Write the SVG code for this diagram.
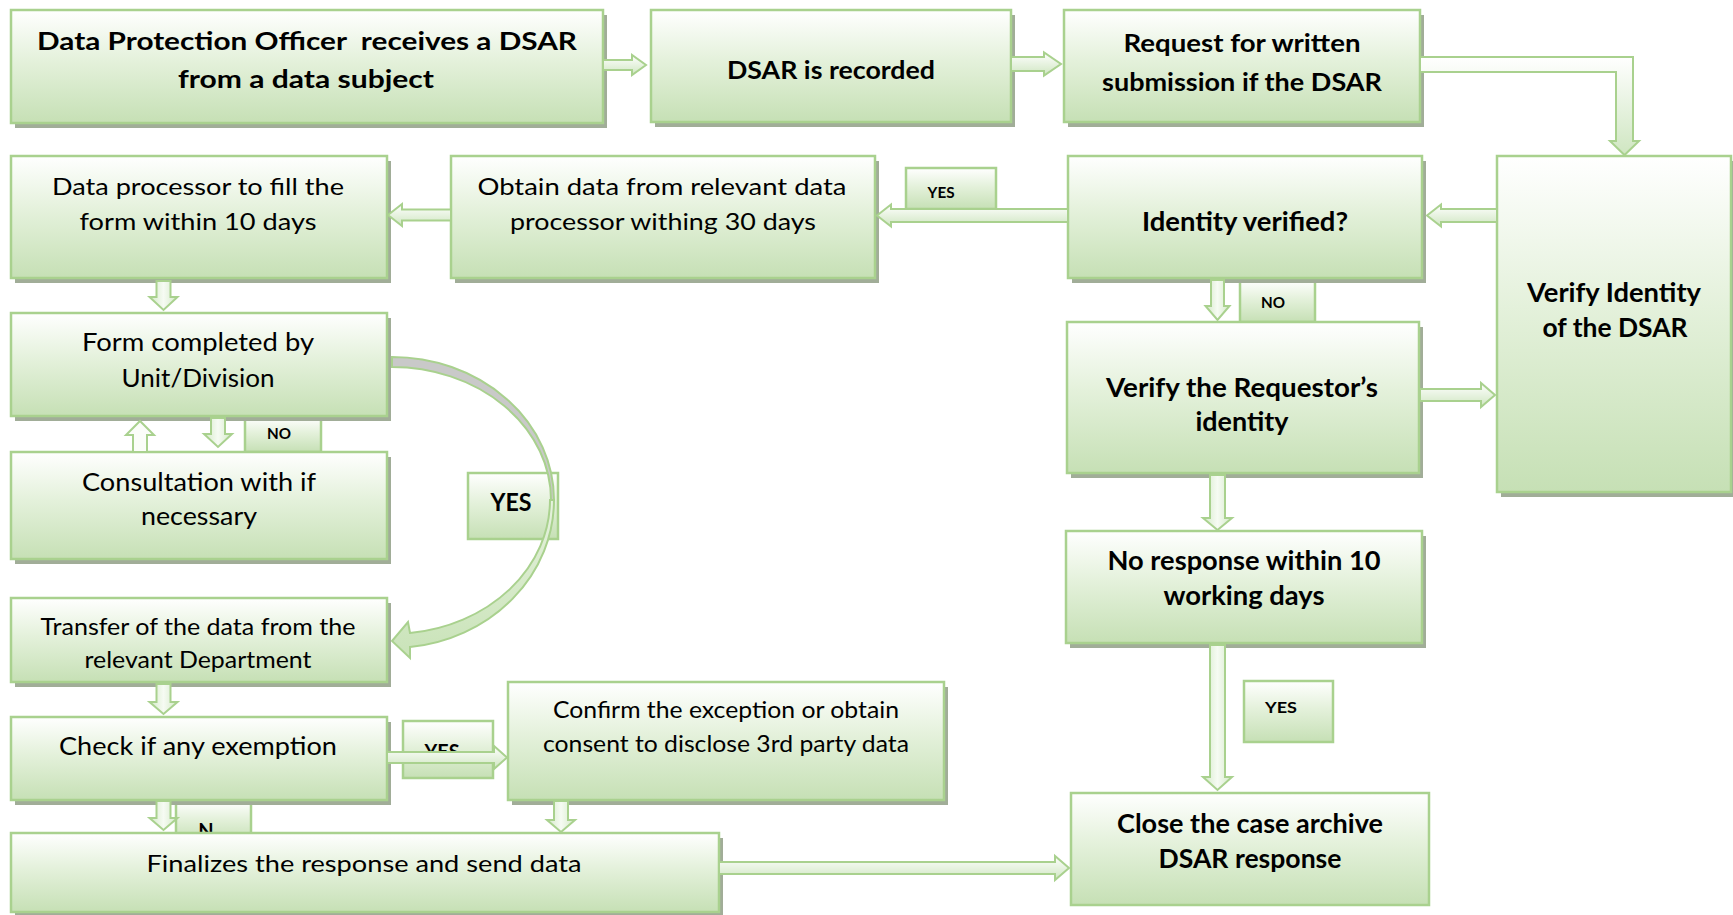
<svg xmlns="http://www.w3.org/2000/svg" width="1733" height="915" viewBox="0 0 1733 915">
<defs>
<linearGradient id="gBox" x1="0" y1="0" x2="0" y2="1">
<stop offset="0" stop-color="#ffffff"/>
<stop offset="0.45" stop-color="#e4f1db"/>
<stop offset="1" stop-color="#c6e0b5"/>
</linearGradient>
<linearGradient id="gArrH" x1="0" y1="0" x2="0" y2="1">
<stop offset="0" stop-color="#ffffff"/>
<stop offset="1" stop-color="#cfe6c1"/>
</linearGradient>
<linearGradient id="gArrV" x1="0" y1="0" x2="1" y2="0">
<stop offset="0" stop-color="#d3e9c6"/>
<stop offset="0.5" stop-color="#f6fbf3"/>
<stop offset="1" stop-color="#d3e9c6"/>
</linearGradient>
<linearGradient id="gCurve" x1="0" y1="0" x2="0" y2="1">
<stop offset="0" stop-color="#e6f2de"/>
<stop offset="1" stop-color="#c9e3b8"/>
</linearGradient>
</defs>
<style>
.box{fill:url(#gBox);stroke:#a9d18e;stroke-width:2.5}
.sh{fill:#a1ad98}
.lbl{fill:url(#gBox);stroke:#a9d18e;stroke-width:2.5}
.ah{fill:url(#gArrH);stroke:#a9d18e;stroke-width:2;stroke-linejoin:miter}
.av{fill:url(#gArrV);stroke:#a9d18e;stroke-width:2;stroke-linejoin:miter}
text{font-family:Lato,"Liberation Sans",sans-serif;fill:#000;text-anchor:middle}
.b{font-weight:bold}
.t22{font-size:23.5px}
.t24{font-size:25px}
.t25{font-size:26.5px}
.tb{font-size:24px}
.s16{font-size:16px;font-weight:bold}
</style>
<rect width="1733" height="915" fill="#ffffff"/>

<!-- labels -->
<g id="lbl-yes1"><rect class="lbl" x="906" y="168" width="90" height="41"/><text class="s16" x="941" y="198" textLength="27" lengthAdjust="spacingAndGlyphs">YES</text></g>
<g id="lbl-no1"><rect class="lbl" x="1240" y="280" width="75" height="42"/><text class="s16" x="1273" y="308" textLength="24" lengthAdjust="spacingAndGlyphs">NO</text></g>
<g id="lbl-no2"><rect class="lbl" x="245" y="417" width="76" height="35"/><text class="s16" x="279" y="439" textLength="24" lengthAdjust="spacingAndGlyphs">NO</text></g>
<g id="lbl-yes2"><rect class="lbl" x="468" y="473" width="90" height="66"/><text class="b" style="font-size:25px" x="511" y="511" textLength="41" lengthAdjust="spacingAndGlyphs">YES</text></g>
<g id="lbl-yes3"><rect class="lbl" x="403" y="721" width="90" height="57"/><text class="b" style="font-size:20px" x="442" y="759" textLength="35" lengthAdjust="spacingAndGlyphs">YES</text></g>
<g id="lbl-n"><rect class="lbl" x="176" y="801" width="75" height="40"/><text class="b" style="font-size:20px" x="206" y="838">N</text></g>
<g id="lbl-yes4"><rect class="lbl" x="1244" y="681" width="89" height="61"/><text class="s16" x="1281" y="713" textLength="32" lengthAdjust="spacingAndGlyphs">YES</text></g>

<!-- nodes -->
<g id="n-receive"><rect class="sh" x="15" y="15" width="592" height="113"/><rect class="box" x="11" y="10" width="592" height="113"/>
<text class="b tb" x="307" y="50" textLength="540" lengthAdjust="spacingAndGlyphs" xml:space="preserve">Data Protection Officer  receives a DSAR</text>
<text class="b tb" x="306" y="88" textLength="256" lengthAdjust="spacingAndGlyphs">from a data subject</text></g>

<g id="n-recorded"><rect class="sh" x="655" y="15" width="360" height="112"/><rect class="box" x="651" y="10" width="360" height="112"/>
<text class="b tb" x="831" y="79" textLength="208" lengthAdjust="spacingAndGlyphs">DSAR is recorded</text></g>

<g id="n-request"><rect class="sh" x="1068" y="15" width="356" height="112"/><rect class="box" x="1064" y="10" width="356" height="112"/>
<text class="b tb" x="1242" y="52" textLength="237" lengthAdjust="spacingAndGlyphs">Request for written</text>
<text class="b tb" x="1242" y="91" textLength="280" lengthAdjust="spacingAndGlyphs">submission if the DSAR</text></g>

<g id="n-verify-dsar"><rect class="sh" x="1501" y="161" width="234" height="336"/><rect class="box" x="1497" y="156" width="234" height="336"/>
<text class="b t25" x="1614" y="302" textLength="174" lengthAdjust="spacingAndGlyphs">Verify Identity</text>
<text class="b t25" x="1615" y="337" textLength="145" lengthAdjust="spacingAndGlyphs">of the DSAR</text></g>

<g id="n-identity"><rect class="sh" x="1072" y="161" width="354" height="122"/><rect class="box" x="1068" y="156" width="354" height="122"/>
<text class="b t25" x="1245" y="231" textLength="206" lengthAdjust="spacingAndGlyphs">Identity verified?</text></g>

<g id="n-obtain"><rect class="sh" x="455" y="161" width="424" height="122"/><rect class="box" x="451" y="156" width="424" height="122"/>
<text class="t22" x="662" y="195" textLength="369" lengthAdjust="spacingAndGlyphs">Obtain data from relevant data</text>
<text class="t22" x="663" y="230" textLength="306" lengthAdjust="spacingAndGlyphs">processor withing 30 days</text></g>

<g id="n-processor"><rect class="sh" x="15" y="161" width="376" height="122"/><rect class="box" x="11" y="156" width="376" height="122"/>
<text class="t22" x="198" y="195" textLength="292" lengthAdjust="spacingAndGlyphs">Data processor to fill the</text>
<text class="t22" x="198" y="230" textLength="237" lengthAdjust="spacingAndGlyphs">form within 10 days</text></g>

<g id="n-form"><rect class="sh" x="15" y="318" width="376" height="103"/><rect class="box" x="11" y="313" width="376" height="103"/>
<text class="t24" x="198" y="351" textLength="232" lengthAdjust="spacingAndGlyphs">Form completed by</text>
<text class="t24" x="198" y="387" textLength="153" lengthAdjust="spacingAndGlyphs">Unit/Division</text></g>

<g id="n-consult"><rect class="sh" x="15" y="457" width="376" height="107"/><rect class="box" x="11" y="452" width="376" height="107"/>
<text class="t24" x="199" y="491" textLength="234" lengthAdjust="spacingAndGlyphs">Consultation with if</text>
<text class="t24" x="199" y="525" textLength="116" lengthAdjust="spacingAndGlyphs">necessary</text></g>

<g id="n-transfer"><rect class="sh" x="15" y="603" width="376" height="84"/><rect class="box" x="11" y="598" width="376" height="84"/>
<text class="t22" x="198" y="635" textLength="315" lengthAdjust="spacingAndGlyphs">Transfer of the data from the</text>
<text class="t22" x="198" y="668" textLength="227" lengthAdjust="spacingAndGlyphs">relevant Department</text></g>

<g id="n-check"><rect class="sh" x="15" y="722" width="376" height="83"/><rect class="box" x="11" y="717" width="376" height="83"/>
<text class="t24" x="198" y="755" textLength="278" lengthAdjust="spacingAndGlyphs">Check if any exemption</text></g>

<g id="n-confirm"><rect class="sh" x="512" y="687" width="436" height="118"/><rect class="box" x="508" y="682" width="436" height="118"/>
<text class="t22" x="726" y="718" textLength="346" lengthAdjust="spacingAndGlyphs">Confirm the exception or obtain</text>
<text class="t22" x="726" y="752" textLength="366" lengthAdjust="spacingAndGlyphs">consent to disclose 3rd party data</text></g>

<g id="n-finalize"><rect class="sh" x="15" y="838" width="708" height="80"/><rect class="box" x="11" y="833" width="708" height="79"/>
<text class="t22" x="364" y="872" textLength="435" lengthAdjust="spacingAndGlyphs">Finalizes the response and send data</text></g>

<g id="n-requestor"><rect class="sh" x="1071" y="327" width="352" height="151"/><rect class="box" x="1067" y="322" width="352" height="151"/>
<text class="b t25" x="1242" y="397" textLength="272" lengthAdjust="spacingAndGlyphs">Verify the Requestor’s</text>
<text class="b t25" x="1242" y="431" textLength="93" lengthAdjust="spacingAndGlyphs">identity</text></g>

<g id="n-noresponse"><rect class="sh" x="1070" y="536" width="356" height="112"/><rect class="box" x="1066" y="531" width="356" height="112"/>
<text class="b t25" x="1244" y="570" textLength="273" lengthAdjust="spacingAndGlyphs">No response within 10</text>
<text class="b t25" x="1244" y="605" textLength="161" lengthAdjust="spacingAndGlyphs">working days</text></g>

<g id="n-close"><rect class="box" x="1071" y="793" width="358" height="112"/>
<text class="b t25" x="1250" y="833" textLength="266" lengthAdjust="spacingAndGlyphs">Close the case archive</text>
<text class="b t25" x="1250" y="868" textLength="183" lengthAdjust="spacingAndGlyphs">DSAR response</text></g>

<!-- connectors -->
<g id="connectors">
<polygon class="ah" points="603,60 632,60 632,55 646,65 632,75 632,70 603,70"/>
<polygon class="ah" points="1011,57 1044,57 1044,52.5 1061,64 1044,75.5 1044,71 1011,71"/>
<path class="ah" d="M1420,57 L1633,57 L1633,141 L1639,141 L1624.5,155 L1610,141 L1616,141 L1616,72 L1420,72 Z"/>
<polygon class="ah" points="1497,209 1441,209 1441,204.5 1427,215.5 1441,226.5 1441,222 1497,222"/>
<polygon class="ah" points="1068,209 891,209 891,204.5 877,215.5 891,226.5 891,222 1068,222"/>
<polygon class="ah" points="451,209.5 402,209.5 402,204 388,215 402,226 402,220.5 451,220.5"/>
<polygon class="av" points="156.5,281 170.5,281 170.5,297 177.5,297 163.5,310 149.5,297 156.5,297"/>
<polygon class="av" points="211,418 225,418 225,434 232,434 218,447 204,434 211,434"/>
<polygon class="av" style="fill:#fbfdf9" points="133,452 147,452 147,435 154,435 140,421 126,435 133,435"/>
<polygon class="av" points="156.5,684 170.5,684 170.5,702 177.5,702 163.5,714 149.5,702 156.5,702"/>
<polygon class="ah" points="387,752 494,752 494,746 507,757.5 494,769 494,763 387,763"/>
<polygon class="av" points="156.5,801 170.5,801 170.5,818 177.5,818 163.5,830 149.5,818 156.5,818"/>
<polygon class="av" points="554,801 568,801 568,820 575,820 561,832 547,820 554,820"/>
<polygon class="ah" points="719,862 1055,862 1055,856 1069,868 1055,880 1055,874 719,874"/>
<polygon class="av" points="1211,280 1224,280 1224,306 1229.5,306 1217.5,320 1205.5,306 1211,306"/>
<polygon class="ah" points="1420,389 1481,389 1481,383 1495,395 1481,407 1481,401 1420,401"/>
<polygon class="av" points="1210,475 1225,475 1225,518 1232,518 1217.5,530 1203,518 1210,518"/>
<polygon class="av" points="1210,645 1225,645 1225,777 1232,777 1217.5,790 1203,777 1210,777"/>
<path fill="#c9c9c9" stroke="#a9d18e" stroke-width="2" d="M392,357 A162 143 0 0 1 554,500 L551,500 A159 133 0 0 0 392,367 Z"/>
<path fill="url(#gCurve)" stroke="#a9d18e" stroke-width="2" stroke-linejoin="miter" d="M554,500 A162 148 0 0 1 410,647 L410,658 L392,641 L408,622 L410,633 A158 134 0 0 0 550,500 Z"/>
</g>
</svg>
